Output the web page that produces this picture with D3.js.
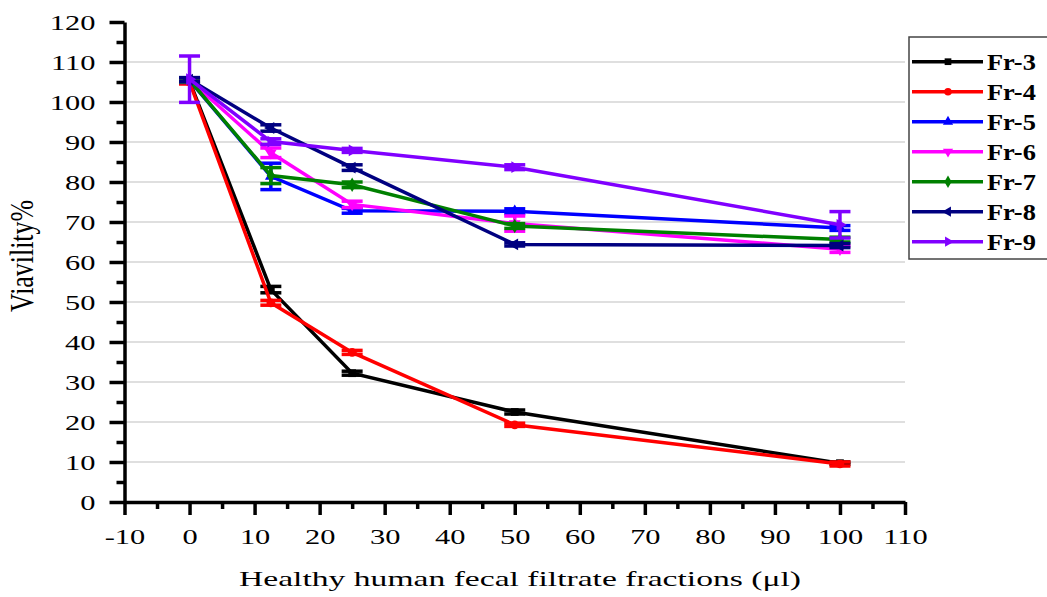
<!DOCTYPE html>
<html>
<head>
<meta charset="utf-8">
<script src="https://cdn.jsdelivr.net/npm/d3@7/dist/d3.min.js"></script>
<style>
  body { margin: 0; background: #fff; }
  svg { display: block; }
  text { font-family: "Liberation Serif", "Times New Roman", serif; fill: #000; }
</style>
</head>
<body>
<div id="chart"></div>
<script>
// doses on the x axis (µl)
var doses = [0, 12.5, 25, 50, 100]

var names = ["Fr-3", "Fr-4", "Fr-5", "Fr-6", "Fr-7", "Fr-8", "Fr-9"]
var colors = ["#000000", "#ff0000", "#0000ff", "#ff00ff", "#008000", "#000080", "#8000ff"]

// viability %, one list per fraction
var fr3 = [105.2, 53.1, 32.2, 22.5, 9.7]
var fr4 = [105.0, 49.8, 37.4, 19.3, 9.5]
var fr5 = [105.4, 81.4, 72.8, 72.7, 68.5]
var fr6 = [105.5, 87.3, 74.4, 69.6, 63.2]
var fr7 = [105.5, 81.6, 79.3, 69.0, 65.6]
var fr8 = [105.6, 93.5, 83.6, 64.4, 64.1]
var fr9 = [105.7, 90.1, 87.9, 83.7, 69.3]

// error bar half widths
var fr3Err = [0.5, 0.8, 0.5, 0.5, 0.3]
var fr4Err = [0.5, 0.6, 0.5, 0.4, 0.5]
var fr5Err = [0.5, 3.3, 0.6, 0.6, 0.6]
var fr6Err = [0.5, 1.2, 0.8, 1.9, 0.8]
var fr7Err = [0.5, 2.0, 0.7, 0.6, 0.6]
var fr8Err = [0.5, 0.8, 0.7, 0.4, 0.5]
var fr9Err = [5.8, 0.7, 0.5, 0.6, 3.3]

var yTicks = d3.range(0, 121, 10)
var yMinor = d3.range(5, 120, 10)
var xTicks = d3.range(-10, 111, 10)
var xMinor = d3.range(-5, 110, 10)

var values = [fr3, fr4, fr5, fr6, fr7, fr8, fr9]
var errors = [fr3Err, fr4Err, fr5Err, fr6Err, fr7Err, fr8Err, fr9Err]
var symbols = [
    { type: d3.symbolSquare, rot: 0 },
    { type: d3.symbolCircle, rot: 0 },
    { type: d3.symbolTriangle, rot: 0 },
    { type: d3.symbolTriangle, rot: 180 },
    { type: d3.symbolDiamond, rot: 0 },
    { type: d3.symbolTriangle, rot: -90 },
    { type: d3.symbolTriangle, rot: 90 }
]

var series = names.map(function (n, i) {
    return {
        name: n,
        color: colors[i],
        sym: symbols[i],
        points: doses.map(function (d, j) { return { x: d, v: values[i][j], e: errors[i][j] } })
    }
})

var width = 1047, height = 597

var svg = d3.select("#chart")
    .append("svg")
    .attr("width", width)
    .attr("height", height)

var x = d3.scaleLinear().domain([-10, 110]).range([124.5, 905])
var y = d3.scaleLinear().domain([0, 120]).range([502, 22])

// gridlines
svg.append("g")
    .selectAll("line")
    .data(yTicks.filter(function (t) { return t > 0 && t < 120 }))
    .enter().append("line")
    .attr("x1", x(-10)).attr("x2", x(110))
    .attr("y1", function (d) { return y(d) }).attr("y2", function (d) { return y(d) })
    .attr("stroke", "#d4d4d4")
    .attr("stroke-width", 1.5)

// y axis
var yAxis = svg.append("g")
    .attr("transform", "translate(" + x(-10) + ",0)")
    .call(d3.axisLeft(y).tickValues(yTicks).tickSize(15).tickSizeOuter(0))

yAxis.selectAll(".tick text")
    .attr("x", 0).attr("dy", "0.34em")
    .attr("transform", "translate(-29,0) scale(1.45,1)")
    .style("font-size", "21px")

yAxis.append("g")
    .call(d3.axisLeft(y).tickValues(yMinor).tickSize(8).tickFormat(""))
    .select(".domain").remove()

// x axis
var xAxis = svg.append("g")
    .attr("transform", "translate(0," + y(0) + ")")
    .call(d3.axisBottom(x).tickValues(xTicks).tickSize(13).tickSizeOuter(0))

xAxis.selectAll(".tick text")
    .attr("y", 0).attr("dy", 0)
    .attr("transform", "translate(0,42) scale(1.45,1)")
    .style("font-size", "21px")
    .text(function (d) { return d })

xAxis.append("g")
    .call(d3.axisBottom(x).tickValues(xMinor).tickSize(7).tickFormat(""))
    .select(".domain").remove()

svg.selectAll(".domain").attr("stroke", "#000").attr("stroke-width", 3.5)
svg.selectAll(".tick line").attr("stroke", "#000").attr("stroke-width", 3.5)
svg.selectAll(".tick text").attr("fill", "#000")

// axis titles
svg.append("text")
    .attr("transform", "translate(520,586)")
    .attr("text-anchor", "middle")
    .attr("textLength", 562)
    .attr("lengthAdjust", "spacingAndGlyphs")
    .style("font-size", "22px")
    .text("Healthy human fecal filtrate fractions (\u03bcl)")

svg.append("text")
    .attr("transform", "translate(33,256) scale(1.5,1) rotate(-90)")
    .attr("text-anchor", "middle")
    .attr("textLength", 112)
    .attr("lengthAdjust", "spacingAndGlyphs")
    .style("font-size", "22px")
    .text("Viavility%")

// data
var line = d3.line()
    .x(function (d) { return x(d.x) })
    .y(function (d) { return y(d.v) })

var groups = svg.selectAll(".series")
    .data(series)
    .enter().append("g")
    .attr("class", "series")

groups.append("path")
    .attr("d", function (s) { return line(s.points) })
    .attr("fill", "none")
    .attr("stroke", function (s) { return s.color })
    .attr("stroke-width", 3.5)

groups.each(function (s) {
    var g = d3.select(this)
    var eb = g.selectAll(".err")
        .data(s.points)
        .enter().append("g")
        .attr("class", "err")
        .attr("stroke", s.color)
        .attr("stroke-width", 3.5)
    eb.append("line")
        .attr("x1", function (d) { return x(d.x) }).attr("x2", function (d) { return x(d.x) })
        .attr("y1", function (d) { return y(d.v + d.e) }).attr("y2", function (d) { return y(d.v - d.e) })
    eb.append("line")
        .attr("x1", function (d) { return x(d.x) - 10.5 }).attr("x2", function (d) { return x(d.x) + 10.5 })
        .attr("y1", function (d) { return y(d.v + d.e) }).attr("y2", function (d) { return y(d.v + d.e) })
    eb.append("line")
        .attr("x1", function (d) { return x(d.x) - 10.5 }).attr("x2", function (d) { return x(d.x) + 10.5 })
        .attr("y1", function (d) { return y(d.v - d.e) }).attr("y2", function (d) { return y(d.v - d.e) })

    g.selectAll(".mark")
        .data(s.points)
        .enter().append("path")
        .attr("class", "mark")
        .attr("d", d3.symbol().type(s.sym.type).size(60))
        .attr("transform", function (d) {
            return "translate(" + x(d.x) + "," + y(d.v) + ") rotate(" + s.sym.rot + ")"
        })
        .attr("fill", s.color)
})

// legend
var legend = svg.append("g")

legend.append("rect")
    .attr("x", 909).attr("y", 37)
    .attr("width", 150).attr("height", 222)
    .attr("fill", "#fff")
    .attr("stroke", "#444")
    .attr("stroke-width", 1.5)

var items = legend.selectAll(".item")
    .data(series)
    .enter().append("g")
    .attr("class", "item")
    .attr("transform", function (d, i) { return "translate(0," + (61.7 + i * 30) + ")" })

items.append("line")
    .attr("x1", 912).attr("x2", 983)
    .attr("stroke", function (d) { return d.color })
    .attr("stroke-width", 3.5)

items.append("path")
    .attr("d", function (d) { return d3.symbol().type(d.sym.type).size(45)() })
    .attr("transform", function (d) { return "translate(948,0) rotate(" + d.sym.rot + ")" })
    .attr("fill", function (d) { return d.color })

items.append("text")
    .attr("transform", "translate(987,8) scale(1.1,1)")
    .style("font-size", "24px")
    .style("font-weight", "bold")
    .text(function (d) { return d.name })
</script>
</body>
</html>
